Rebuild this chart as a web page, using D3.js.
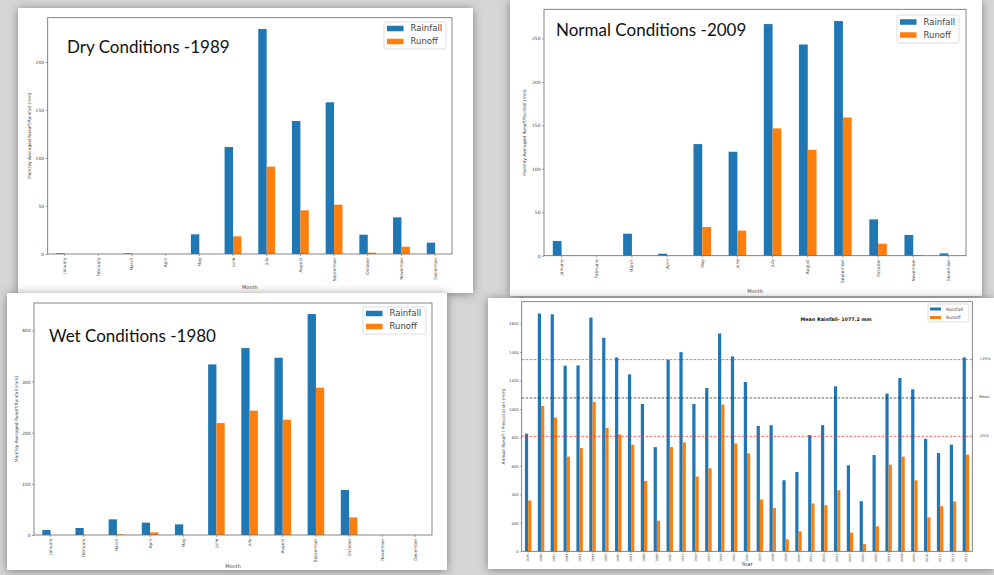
<!DOCTYPE html>
<head>
    <meta name="viewport" content="width=device-width, initial-scale=1">
</head>
<meta charset="utf-8">
<style>
    body {
        margin: 0;
        background: #d6d6d6;
    }

    svg {
        display: block;
    }

    .frame {
        fill: none;
        stroke: #666;
        stroke-width: 0.8px;
    }

    .axis text {
        font-family: "DejaVu Sans", sans-serif;
        fill: #444;
    }

    .axis line {
        stroke: #666;
        stroke-width: 0.6px;
    }

    .axis .domain {
        display: none;
    }

    .big-title {
        font-family: Lato, "Liberation Sans", sans-serif;
        fill: #111;
    }

    .small {
        font-family: "DejaVu Sans", sans-serif;
        fill: #444;
    }
</style>

<svg width="994" height="575" id="chart"></svg>

<script src="https://cdn.jsdelivr.net/npm/d3@7"></script>
<script>

    var months = ["January", "February", "March", "April", "May", "June", "July",
        "August", "September", "October", "November", "December"];
    var seriesNames = ["Rainfall", "Runoff"];

    // monthly values (mm)
    var dryRain = [0.7, 0, 0.7, 0, 20.5, 111.4, 234.4, 138.5, 158, 20.1, 38.2, 11.8];
    var dryRunoff = [0, 0, 0, 0, 0, 18.4, 91, 45.5, 51.4, 1.4, 7.6, 0];
    var dryTicks = [0, 50, 100, 150, 200];

    var normalRain = [16.9, 0, 25.3, 2.3, 128.4, 119.6, 266.5, 243, 270, 41.8, 23.8, 2.7];
    var normalRunoff = [0, 0, 0, 0, 33, 28.8, 146.5, 121.9, 159, 13.8, 0.8, 0];
    var normalTicks = [0, 50, 100, 150, 200, 250];

    var wetRain = [9.8, 13.7, 30.6, 24.1, 20.8, 333.6, 365.5, 346.6, 432, 88, 0, 0];
    var wetRunoff = [0, 0, 1.3, 5.2, 0, 218.9, 243, 225.4, 288, 34.5, 0, 0];
    var wetTicks = [0, 100, 200, 300, 400];

    // annual totals
    var years = [1979, 1980, 1981, 1982, 1983, 1984, 1985, 1986, 1987, 1988, 1989, 1990,
        1991, 1992, 1993, 1994, 1995, 1996, 1997, 1998, 1999, 2000, 2001, 2002, 2003,
        2004, 2005, 2006, 2007, 2008, 2009, 2010, 2011, 2012, 2013];
    var annualRain = [826, 1670, 1665, 1304, 1306, 1642, 1500, 1362, 1243, 1035, 732, 1346,
        1399, 1035, 1147, 1530, 1369, 1189, 881, 886, 499, 557, 816, 886, 1159,
        604, 352, 676, 1108, 1217, 1138, 790, 690, 749, 1362];
    var annualRunoff = [357, 1021, 940, 665, 725, 1049, 867, 821, 749, 494, 215, 732,
        765, 525, 583, 1031, 758, 688, 364, 305, 84, 140, 336, 324, 429,
        131, 51, 175, 609, 665, 499, 238, 317, 350, 679];
    var annualTicks = [0, 200, 400, 600, 800, 1000, 1200, 1400, 1600];
    var refLabels = ["+25%", "Mean", "-25%"];
    var refValues = [1346.5, 1077.2, 807.9];
    var refColors = ["#ff2a2a", "#222", "#ff2a2a"];

    var colors = {Rainfall: "#1f77b4", Runoff: "#ff7f0e"};

    var svg = d3.select("#chart");

    var shadow = svg.append("defs").append("filter")
        .attr("id", "shadow")
        .attr("x", "-10%").attr("y", "-10%")
        .attr("width", "120%").attr("height", "120%");
    shadow.append("feDropShadow")
        .attr("dx", 0).attr("dy", 1)
        .attr("stdDeviation", 5)
        .attr("flood-color", "#444")
        .attr("flood-opacity", 0.6);

    function card(box) {
        var g = svg.append("g");
        g.append("rect")
            .attr("x", box.x).attr("y", box.y)
            .attr("width", box.w).attr("height", box.h)
            .attr("fill", "#fff")
            .attr("filter", "url(#shadow)");
        return g;
    }

    function legend(g, lg) {
        g.append("rect")
            .attr("x", lg.x).attr("y", lg.y)
            .attr("width", lg.w).attr("height", lg.h)
            .attr("rx", 1.5)
            .attr("fill", "#fff")
            .attr("fill-opacity", 0.8)
            .attr("stroke", "#d0d0d0")
            .attr("stroke-width", 0.7);
        var rows = g.selectAll(".lg-row")
            .data(seriesNames)
            .enter().append("g")
            .attr("class", "lg-row")
            .attr("transform", function (d, i) {
                return "translate(" + (lg.x + lg.pad) + "," + (lg.y + lg.first + i * lg.step) + ")";
            });
        rows.append("rect")
            .attr("x", 0).attr("y", -lg.ph / 2)
            .attr("width", lg.pw).attr("height", lg.ph)
            .attr("fill", function (d) { return colors[d]; });
        rows.append("text")
            .attr("class", "small")
            .attr("x", lg.pw + lg.gap)
            .attr("dy", "0.35em")
            .attr("font-size", lg.fs)
            .text(function (d) { return d; });
    }

    function drawBars(g, cats, rain, runoff, x, y) {
        var inner = d3.scaleBand().domain(seriesNames).range([0, x.bandwidth()]);
        var rows = cats.map(function (c, i) {
            return {cat: c, values: [{s: "Rainfall", v: rain[i]}, {s: "Runoff", v: runoff[i]}]};
        });
        g.append("g").selectAll("g")
            .data(rows)
            .enter().append("g")
            .attr("transform", function (d) { return "translate(" + x(d.cat) + ",0)"; })
            .selectAll("rect")
            .data(function (d) { return d.values; })
            .enter().append("rect")
            .attr("x", function (d) { return inner(d.s); })
            .attr("width", inner.bandwidth())
            .attr("y", function (d) { return y(d.v); })
            .attr("height", function (d) { return y(0) - y(d.v); })
            .attr("fill", function (d) { return colors[d.s]; });
    }

    function drawMonthly(p) {
        var g = card(p.card);
        var x = d3.scaleBand()
            .domain(months)
            .range([p.left, p.right])
            .paddingInner(0.5)
            .paddingOuter(0.25);
        var top = d3.max(p.rain.concat(p.runoff)) * 1.05;
        var y = d3.scaleLinear()
            .domain([0, top])
            .range([p.bottom, p.top]);

        drawBars(g, months, p.rain, p.runoff, x, y);

        g.append("g")
            .attr("class", "axis")
            .attr("transform", "translate(" + p.left + ",0)")
            .call(d3.axisLeft(y).tickValues(p.ticks).tickSize(2).tickPadding(1.5))
            .attr("font-size", 4.5);

        var xa = g.append("g")
            .attr("class", "axis")
            .attr("transform", "translate(0," + p.bottom + ")")
            .call(d3.axisBottom(x).tickSize(2).tickPadding(1.5))
            .attr("font-size", 4.3);
        xa.selectAll("text")
            .attr("text-anchor", "end")
            .attr("transform", "rotate(-90)")
            .attr("x", -3.5)
            .attr("y", 0)
            .attr("dy", "0.35em");

        g.append("rect")
            .attr("class", "frame")
            .attr("x", p.left).attr("y", p.top)
            .attr("width", p.right - p.left).attr("height", p.bottom - p.top);

        g.append("text")
            .attr("class", "small")
            .attr("x", (p.left + p.right) / 2)
            .attr("y", p.xlabY)
            .attr("text-anchor", "middle")
            .attr("font-size", 5)
            .text("Month");

        g.append("text")
            .attr("class", "small")
            .attr("transform", "translate(" + p.ylabX + "," + (p.top + p.bottom) / 2 + ") rotate(-90)")
            .attr("text-anchor", "middle")
            .attr("font-size", 4.4)
            .text("Monthly Averaged Runoff/Rainfall (mm)");

        g.append("text")
            .attr("class", "big-title")
            .attr("x", p.titleX).attr("y", p.titleY)
            .attr("font-size", 17)
            .text(p.title);

        legend(g, p.legend);
    }

    drawMonthly({
        card: {x: 18, y: 8, w: 455, h: 285},
        left: 47.7, right: 452, top: 17.7, bottom: 254,
        rain: dryRain, runoff: dryRunoff, ticks: dryTicks,
        title: "Dry Conditions -1989", titleX: 67, titleY: 53,
        xlabY: 289, ylabX: 31,
        legend: {x: 384, y: 22, w: 62, h: 27, pad: 3, first: 6.5, step: 13, pw: 16.5, ph: 5.5, gap: 7, fs: 8.5}
    });

    drawMonthly({
        card: {x: 510, y: 0, w: 472, h: 296},
        left: 544, right: 966, top: 9.3, bottom: 255.7,
        rain: normalRain, runoff: normalRunoff, ticks: normalTicks,
        title: "Normal Conditions -2009", titleX: 556, titleY: 36,
        xlabY: 293, ylabX: 526,
        legend: {x: 897, y: 15, w: 62, h: 28, pad: 3, first: 7, step: 13, pw: 16.5, ph: 5.5, gap: 7, fs: 8.5}
    });

    drawMonthly({
        card: {x: 7, y: 293, w: 440, h: 277},
        left: 34, right: 432, top: 303, bottom: 535,
        rain: wetRain, runoff: wetRunoff, ticks: wetTicks,
        title: "Wet Conditions -1980", titleX: 49, titleY: 342,
        xlabY: 568, ylabX: 18,
        legend: {x: 363, y: 307, w: 63, h: 27, pad: 3, first: 6.5, step: 13, pw: 16.5, ph: 5.5, gap: 7, fs: 8.5}
    });

    // annual chart
    (function () {
        var p = {left: 521.7, right: 972.3, top: 301.7, bottom: 551.3};
        var g = card({x: 488, y: 298, w: 506, h: 271});
        var x = d3.scaleBand()
            .domain(years)
            .range([p.left, p.right])
            .paddingInner(0.5)
            .paddingOuter(0.25);
        var y = d3.scaleLinear()
            .domain([0, d3.max(annualRain) * 1.05])
            .range([p.bottom, p.top]);

        drawBars(g, years, annualRain, annualRunoff, x, y);

        g.append("g")
            .selectAll("line")
            .data(refValues)
            .enter().append("line")
            .attr("x1", p.left).attr("x2", p.right)
            .attr("y1", function (d) { return y(d); })
            .attr("y2", function (d) { return y(d); })
            .attr("stroke", function (d, i) { return refColors[i]; })
            .attr("stroke-opacity", 0.8)
            .attr("stroke-width", 0.9)
            .attr("stroke-dasharray", "2.5,1.5");

        g.append("g")
            .selectAll("text")
            .data(refValues)
            .enter().append("text")
            .attr("class", "small")
            .attr("x", 979)
            .attr("y", function (d) { return y(d) - 1; })
            .attr("dy", "0.35em")
            .attr("font-size", 3.8)
            .text(function (d, i) { return refLabels[i]; });

        g.append("g")
            .attr("class", "axis")
            .attr("transform", "translate(" + p.left + ",0)")
            .call(d3.axisLeft(y).tickValues(annualTicks).tickFormat(d3.format("d")).tickSize(1.5).tickPadding(1.5))
            .attr("font-size", 3.8);

        var xa = g.append("g")
            .attr("class", "axis")
            .attr("transform", "translate(0," + p.bottom + ")")
            .call(d3.axisBottom(x).tickFormat(d3.format("d")).tickSize(1.5).tickPadding(1))
            .attr("font-size", 3.2);
        xa.selectAll("text")
            .attr("text-anchor", "end")
            .attr("transform", "rotate(-90)")
            .attr("x", -2.5)
            .attr("y", 0)
            .attr("dy", "0.35em");

        g.append("rect")
            .attr("class", "frame")
            .attr("x", p.left).attr("y", p.top)
            .attr("width", p.right - p.left).attr("height", p.bottom - p.top);

        g.append("text")
            .attr("class", "small")
            .attr("x", 747).attr("y", 566)
            .attr("text-anchor", "middle")
            .attr("font-size", 5.5)
            .text("Year");

        g.append("text")
            .attr("class", "small")
            .attr("transform", "translate(505," + (p.top + p.bottom) / 2 + ") rotate(-90)")
            .attr("text-anchor", "middle")
            .attr("font-size", 4.4)
            .text("Annual Runoff / Precipitation (mm)");

        g.append("text")
            .attr("class", "small")
            .attr("x", 836).attr("y", 321)
            .attr("text-anchor", "middle")
            .attr("font-size", 4.8)
            .attr("font-weight", "bold")
            .style("fill", "#111")
            .text("Mean Rainfall- 1077.2 mm");

        legend(g, {x: 928, y: 304, w: 41, h: 18, pad: 2, first: 5, step: 8.5, pw: 11, ph: 3, gap: 5, fs: 4.6});
    })();

</script>
